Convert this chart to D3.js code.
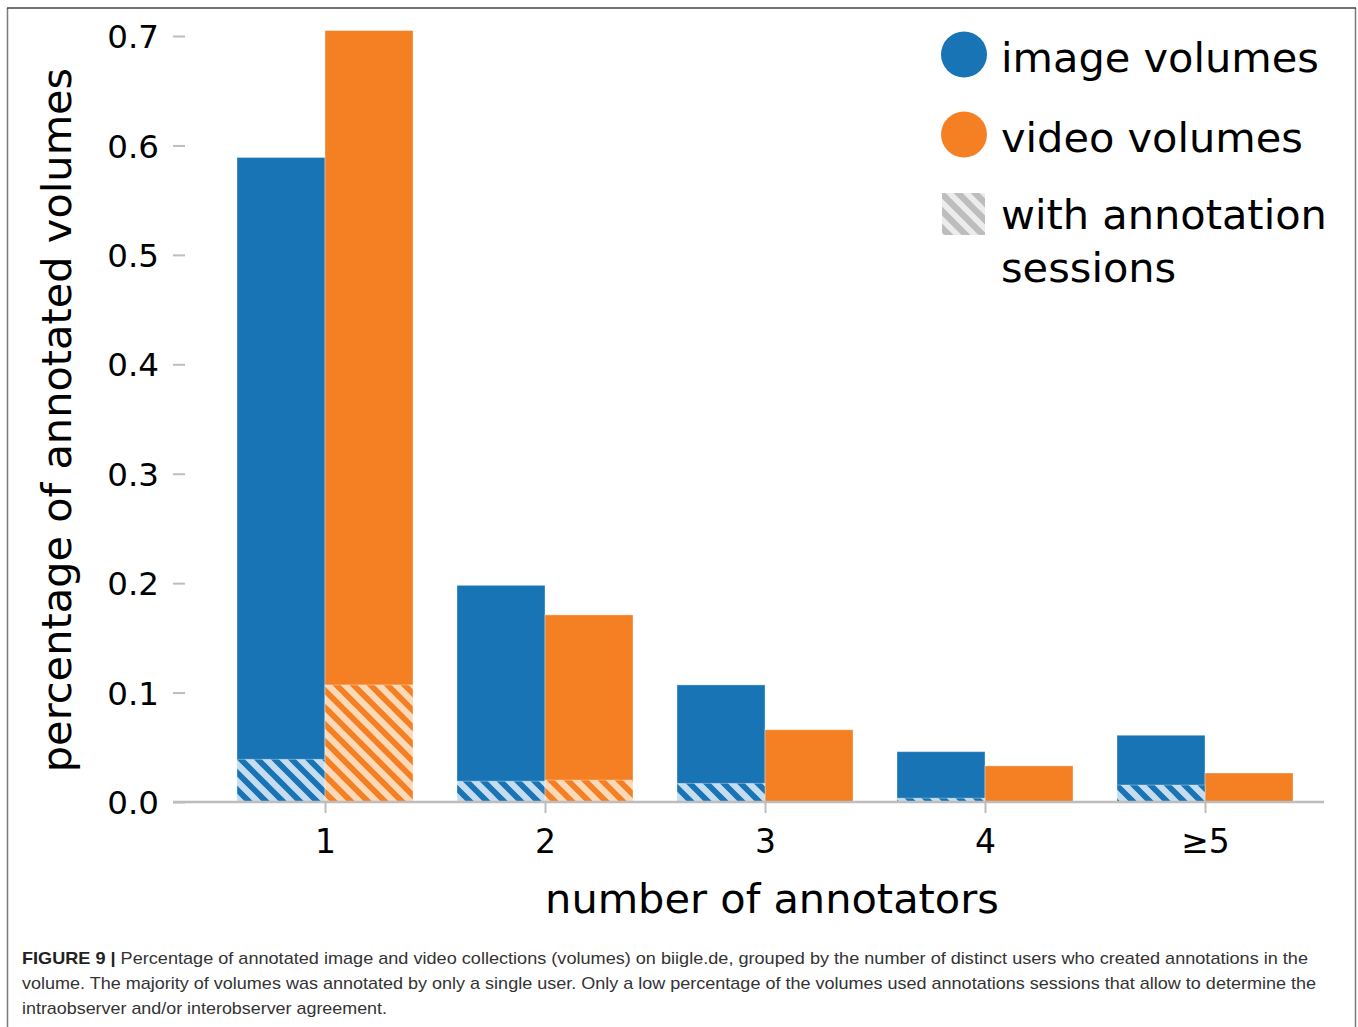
<!DOCTYPE html>
<html>
<head>
<meta charset="utf-8">
<script src="https://cdn.jsdelivr.net/npm/d3@7"></script>
<style>
  html, body { margin: 0; padding: 0; background: #fff; }
  svg { display: block; }
</style>
</head>
<body>
<svg id="chart" width="1358" height="1027"></svg>
<script>
const categories = ["1", "2", "3", "4", "\u22655"];
const imageVolumes = [0.589, 0.198, 0.107, 0.046, 0.061];
const videoVolumes = [0.705, 0.171, 0.066, 0.033, 0.0265];
const imageWithSessions = [0.039, 0.019, 0.017, 0.0035, 0.0155];
const videoWithSessions = [0.107, 0.020, 0, 0, 0];
const yTicks = [0.0, 0.1, 0.2, 0.3, 0.4, 0.5, 0.6, 0.7];
const seriesNames = ["image volumes", "video volumes"];
const legendLabels = ["image volumes", "video volumes", ["with annotation", "sessions"]];
const captionLines = [
  ["FIGURE 9 | ", "Percentage of annotated image and video collections (volumes) on biigle.de, grouped by the number of distinct users who created annotations in the"],
  ["", "volume. The majority of volumes was annotated by only a single user. Only a low percentage of the volumes used annotations sessions that allow to determine the"],
  ["", "intraobserver and/or interobserver agreement."]
];

const colors = { "image volumes": "#1874b4", "video volumes": "#f58024" };
const hatchLight = { "image volumes": "#c6dcef", "video volumes": "#fdd9b8" };

const svg = d3.select("#chart");
const font = "'DejaVu Sans', sans-serif";

// frame
svg.append("line").attr("x1", 7.5).attr("x2", 7.5).attr("y1", 8).attr("y2", 1027).attr("stroke", "#7a7a7a").attr("stroke-width", 1.5);
svg.append("line").attr("x1", 1355.5).attr("x2", 1355.5).attr("y1", 8).attr("y2", 1027).attr("stroke", "#7a7a7a").attr("stroke-width", 1.5);
svg.append("line").attr("x1", 7).attr("x2", 1356).attr("y1", 8).attr("y2", 8).attr("stroke", "#444").attr("stroke-width", 1.5);

// patterns
const defs = svg.append("defs");
function makePattern(id, bg, fg) {
  const p = defs.append("pattern").attr("id", id).attr("patternUnits", "userSpaceOnUse")
    .attr("width", 17).attr("height", 17);
  p.append("rect").attr("width", 17).attr("height", 17).attr("fill", bg);
  p.append("path").attr("d", "M-5,-5 L22,22 M-5,12 L5,22 M12,-5 L22,5")
    .attr("stroke", fg).attr("stroke-width", 6.2);
}
makePattern("hatch-image", colors["image volumes"], hatchLight["image volumes"]);
makePattern("hatch-video", colors["video volumes"], hatchLight["video volumes"]);
makePattern("hatch-legend", "#ececec", "#bdbdbd");

const y = d3.scaleLinear().domain([0, 0.7]).range([802, 36]);
const x = d3.scaleBand().domain(categories).range([215, 1315]).paddingInner(0.2).paddingOuter(0.1);
const xs = d3.scaleBand().domain(seriesNames).range([0, x.bandwidth()]);

// y ticks
const yAxis = d3.axisLeft(y).tickValues(yTicks).tickFormat(d3.format(".1f")).tickSize(12).tickPadding(14);
const gy = svg.append("g").attr("transform", "translate(185,0)").call(yAxis);
gy.select(".domain").remove();
gy.selectAll(".tick line").attr("stroke", "#bdbdbd").attr("stroke-width", 2);
gy.selectAll(".tick text").attr("font-family", font).attr("font-size", 32.5).attr("fill", "#000").attr("dy", "0.36em");

// x axis
const xAxis = d3.axisBottom(d3.scalePoint().domain(categories).range([x(categories[0]) + x.bandwidth() / 2, x(categories[4]) + x.bandwidth() / 2]))
  .tickSize(11).tickPadding(14);
const gx = svg.append("g").attr("transform", "translate(0,802)").call(xAxis);
gx.select(".domain").remove();
gx.selectAll(".tick line").attr("stroke", "#bdbdbd").attr("stroke-width", 2);
gx.selectAll(".tick text").attr("font-family", font).attr("font-size", 33).attr("fill", "#000").attr("dy", "0.78em");

// bars
const rows = categories.map((c, i) => [
  { cat: c, s: "image volumes", v: imageVolumes[i], h: imageWithSessions[i], pat: "hatch-image" },
  { cat: c, s: "video volumes", v: videoVolumes[i], h: videoWithSessions[i], pat: "hatch-video" }
]).flat();

const bars = svg.append("g");
bars.selectAll("rect.main").data(rows).join("rect").attr("class", "main")
  .attr("x", d => x(d.cat) + xs(d.s)).attr("width", xs.bandwidth())
  .attr("y", d => y(d.v)).attr("height", d => y(0) - y(d.v))
  .attr("fill", d => colors[d.s])
  .attr("stroke", "rgba(255,255,255,0.35)").attr("stroke-width", 1);
bars.selectAll("rect.hatch").data(rows.filter(d => d.h > 0)).join("rect").attr("class", "hatch")
  .attr("x", d => x(d.cat) + xs(d.s)).attr("width", xs.bandwidth())
  .attr("y", d => y(d.h)).attr("height", d => y(0) - y(d.h))
  .attr("fill", d => "url(#" + d.pat + ")")
  .attr("stroke", "rgba(255,255,255,0.35)").attr("stroke-width", 1);

// baseline
svg.append("line").attr("x1", 173).attr("x2", 1324).attr("y1", y(0)).attr("y2", y(0))
  .attr("stroke", "#bdbdbd").attr("stroke-width", 2.5);

// axis labels
svg.append("text").attr("x", 772).attr("y", 913).attr("text-anchor", "middle")
  .attr("font-family", font).attr("font-size", 41.5).attr("fill", "#000").text("number of annotators");
svg.append("text").attr("transform", "translate(71,420) rotate(-90)").attr("text-anchor", "middle")
  .attr("font-family", font).attr("font-size", 41.5).attr("fill", "#000").text("percentage of annotated volumes");

// legend
const lg = svg.append("g");
lg.append("circle").attr("cx", 964).attr("cy", 54.5).attr("r", 23).attr("fill", colors["image volumes"]);
lg.append("circle").attr("cx", 964).attr("cy", 134.5).attr("r", 23).attr("fill", colors["video volumes"]);
lg.append("rect").attr("x", 942).attr("y", 193).attr("width", 43).attr("height", 42).attr("fill", "url(#hatch-legend)");
const lt = [[legendLabels[0], 72], [legendLabels[1], 152], [legendLabels[2][0], 229], [legendLabels[2][1], 282]];
lg.selectAll("text").data(lt).join("text").attr("x", 1001).attr("y", d => d[1])
  .attr("font-family", font).attr("font-size", 41.5).attr("fill", "#000").text(d => d[0]);

// caption
const capWidths = [1286, 1294, 365];
const capY = [964, 989, 1014];
captionLines.forEach((ln, i) => {
  const t = svg.append("text").attr("x", 22).attr("y", capY[i])
    .attr("font-family", "'Liberation Sans', Arial, sans-serif").attr("font-size", 17).attr("fill", "#333")
    .attr("textLength", capWidths[i]).attr("lengthAdjust", "spacingAndGlyphs");
  if (ln[0]) t.append("tspan").attr("font-weight", "bold").attr("fill", "#222").text(ln[0]);
  t.append("tspan").text(ln[1]);
});
</script>
</body>
</html>
